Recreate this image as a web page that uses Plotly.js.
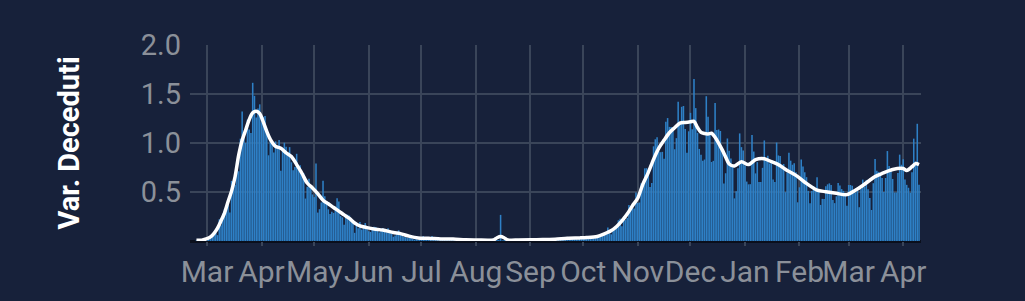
<!DOCTYPE html>
<html>
<head>
<meta charset="utf-8">
<script src="https://cdn.plot.ly/plotly-3.0.1.min.js"></script>
<style>
  html, body { margin: 0; padding: 0; background: #17213a; }
  #chart { width: 1025px; height: 301px; }
</style>
</head>
<body>
<div id="chart"></div>
<script>
// Daily deaths (variazione deceduti), Italy
const firstDay = '2020-02-24';
const feb2020 = [4,3,2,5,4,8];
const mar2020 = [5,18,27,28,41,49,36,133,97,168,196,189,250,175,368,349,345,475,427,627,793,651,601,743,683,662,969,889,756,812,837];
const apr2020 = [727,760,766,681,525,636,604,542,610,570,619,431,566,602,578,525,575,482,433,454,534,437,464,420,415,260,333,382,323,285];
const may2020 = [269,474,174,195,236,369,274,243,194,165,179,172,195,262,242,153,145,99,162,161,156,130,119,50,92,78,117,70,87,111,75];
const jun2020 = [60,55,71,88,85,72,53,65,79,71,53,78,56,44,26,34,43,66,47,49,24,23,18,23,30,12,8,22,6,23];
const jul2020 = [21,30,15,21,7,8,30,12,15,12,7,7,13,9,17,13,11,14,9,13,15,11,10,5,5,5,11,6,5,3,6];
const aug2020 = [5,3,5,6,10,10,6,3,4,5,3,2,6,6,160,4,7,4,6,3,9,5,6,4,5,13,5,9,9,1,4];
const sep2020 = [6,10,6,11,10,6,7,14,10,10,9,7,7,14,9,10,13,10,24,15,14,20,15,20,17,15,17,9,24,19];
const oct2020 = [23,17,27,17,18,28,28,22,22,28,26,39,41,43,83,47,41,69,73,89,127,136,91,151,128,141,221,205,217,199,297];
const nov2020 = [233,236,353,352,445,446,425,331,356,580,623,636,550,544,546,504,731,753,699,699,692,562,630,853,722,822,827,686,541,672];
const dec2020 = [785,684,993,814,662,564,528,491,499,887,761,649,484,491,846,680,683,674,544,352,415,628,553,505,459,261,305,445,659,575,555];
const jan2021 = [462,364,347,348,649,548,414,483,361,361,448,616,507,522,475,477,377,361,603,524,521,467,472,299,420,541,492,467,477,421,237];
const feb2021 = [329,499,456,421,391,307,232,307,336,316,391,316,221,258,258,336,347,353,343,251,232,274,356,340,318,307,280,216];
const mar2021 = [343,343,339,297,297,307,207,318,376,332,373,317,264,190,354,502,431,423,401,386,300,386,551,460,431,380,297,297,417,529,467];
const apr2021 = [501,376,344,326,296,421,627,487,718,344];

// Smoothed 7-day average (white line)
const avgDates = ['2020-02-24','2020-02-27','2020-03-01','2020-03-03','2020-03-05','2020-03-07','2020-03-09','2020-03-11','2020-03-13','2020-03-15','2020-03-17','2020-03-19','2020-03-21','2020-03-23','2020-03-25','2020-03-27','2020-03-29','2020-03-31','2020-04-02','2020-04-04','2020-04-06','2020-04-09','2020-04-12','2020-04-15','2020-04-18','2020-04-21','2020-04-24','2020-04-27','2020-04-30','2020-05-03','2020-05-06','2020-05-09','2020-05-12','2020-05-15','2020-05-18','2020-05-21','2020-05-24','2020-05-27','2020-05-31','2020-06-04','2020-06-09','2020-06-15','2020-06-19','2020-06-24','2020-06-29','2020-07-05','2020-07-12','2020-07-19','2020-07-26','2020-08-02','2020-08-08','2020-08-11','2020-08-13','2020-08-15','2020-08-17','2020-08-19','2020-08-25','2020-09-01','2020-09-08','2020-09-15','2020-09-22','2020-09-29','2020-10-03','2020-10-09','2020-10-13','2020-10-17','2020-10-20','2020-10-23','2020-10-26','2020-10-29','2020-11-01','2020-11-04','2020-11-07','2020-11-10','2020-11-13','2020-11-16','2020-11-19','2020-11-22','2020-11-25','2020-11-28','2020-12-01','2020-12-03','2020-12-05','2020-12-07','2020-12-09','2020-12-11','2020-12-13','2020-12-15','2020-12-17','2020-12-19','2020-12-21','2020-12-23','2020-12-26','2020-12-30','2021-01-03','2021-01-07','2021-01-12','2021-01-16','2021-01-20','2021-01-25','2021-01-30','2021-02-04','2021-02-11','2021-02-16','2021-02-22','2021-02-28','2021-03-05','2021-03-09','2021-03-13','2021-03-16','2021-03-20','2021-03-26','2021-04-01','2021-04-03','2021-04-06','2021-04-08','2021-04-10'];
const avgValues = [4,5,14,25,47,79,124,173,242,307,395,524,617,680,743,785,795,780,730,671,623,580,568,540,518,468,415,355,325,290,250,228,205,183,160,138,110,92,82,74,67,52,45,30,19,17,12,12,7,6,5,6,20,27,20,7,6,7,9,11,17,19,21,28,44,64,89,123,165,216,262,350,419,500,569,618,663,694,722,726,730,733,695,665,658,656,660,635,600,560,515,472,460,486,468,498,504,486,468,432,402,360,312,302,292,284,312,340,372,395,414,438,444,432,455,474,468];

// Population in units of 100,000 (values are shown per 100k inhabitants)
const POP_100K = 600;

const yTickVals = [0.5, 1, 1.5, 2];
const yTickText = ['0.5', '1.0', '1.5', '2.0'];
const xRange = ['2020-02-20 08:00', '2021-04-11 03:00'];

const daily = [].concat(feb2020, mar2020, apr2020, may2020, jun2020, jul2020, aug2020, sep2020, oct2020, nov2020, dec2020, jan2021, feb2021, mar2021, apr2021);
const dates = [];
const d0 = new Date(firstDay + 'T00:00:00Z');
for (let i = 0; i < daily.length; i++) {
  const d = new Date(d0.getTime() + i * 86400000);
  dates.push(d.toISOString().slice(0, 10));
}

const grid = '#3a4559';
const tickFont = { family: 'Roboto, sans-serif', size: 30, color: '#8b9099' };

Plotly.newPlot('chart', [
  {
    type: 'bar',
    x: dates,
    y: daily.map(v => v / POP_100K),
    marker: { color: '#2e80c6', line: { width: 0 } },
    hoverinfo: 'skip'
  },
  {
    type: 'scatter',
    mode: 'lines',
    x: avgDates,
    y: avgValues.map(v => v / POP_100K),
    line: { color: '#ffffff', width: 3.5, shape: 'spline', smoothing: 0.8 },
    hoverinfo: 'skip'
  }
], {
  width: 1025,
  height: 301,
  margin: { l: 190, r: 104, t: 45, b: 60 },
  paper_bgcolor: '#17213a',
  plot_bgcolor: '#17213a',
  showlegend: false,
  bargap: 0.12,
  xaxis: {
    type: 'date',
    range: xRange,
    tickmode: 'linear',
    tick0: '2020-03-01',
    dtick: 'M1',
    tickformat: '%b',
    tickangle: 0,
    showgrid: true,
    gridcolor: grid,
    gridwidth: 2,
    ticks: 'outside',
    ticklen: 4,
    tickcolor: grid,
    tickwidth: 2,
    showline: false,
    zeroline: false,
    tickfont: tickFont
  },
  yaxis: {
    range: [0, 2.001],
    tickmode: 'array',
    tickvals: yTickVals,
    ticktext: yTickText,
    showgrid: true,
    gridcolor: grid,
    gridwidth: 2,
    zeroline: true,
    zerolinecolor: '#0a0f1c',
    zerolinewidth: 3,
    ticks: '',
    ticklabelstandoff: 8,
    tickfont: { family: 'Roboto, sans-serif', size: 29, color: '#8b9099' },
    title: { text: '<b>Var. Deceduti</b>', font: { family: 'Roboto, sans-serif', size: 29, color: '#ffffff' }, standoff: 52 }
  }
}, { displayModeBar: false, staticPlot: true });
</script>
</body>
</html>
